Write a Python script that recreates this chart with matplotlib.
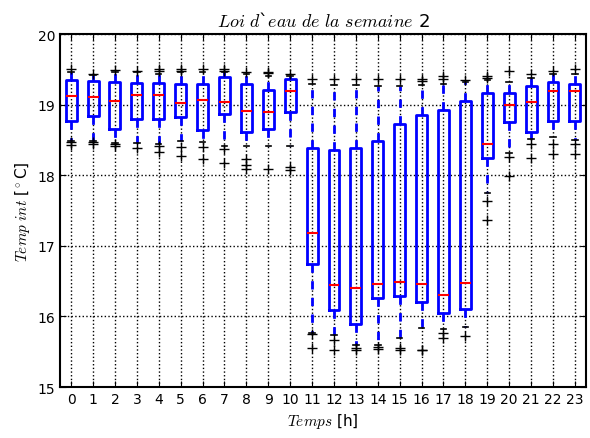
import matplotlib
matplotlib.use('Agg')
import matplotlib.pyplot as plt

plt.rcParams['mathtext.fontset'] = 'cm'

hours = list(range(24))
q1 = [18.77, 18.84, 18.66, 18.80, 18.80, 18.82, 18.64, 18.87, 18.61, 18.66, 18.90, 16.75,
      16.09, 15.89, 16.26, 16.29, 16.21, 16.05, 16.11, 18.25, 18.76, 18.62, 18.77, 18.77]
med = [19.12, 19.11, 19.05, 19.14, 19.14, 19.02, 19.07, 19.04, 18.91, 18.89, 19.19, 17.18,
       16.44, 16.41, 16.46, 16.49, 16.46, 16.30, 16.48, 18.44, 19.00, 19.04, 19.19, 19.19]
q3 = [19.35, 19.34, 19.32, 19.31, 19.31, 19.29, 19.30, 19.39, 19.29, 19.21, 19.36, 18.38,
      18.36, 18.39, 18.48, 18.73, 18.85, 18.93, 19.05, 19.17, 19.17, 19.26, 19.32, 19.30]
whis_hi = [19.47, 19.42, 19.47, 19.46, 19.43, 19.46, 19.47, 19.46, 19.43, 19.41, 19.40, 19.29,
           19.28, 19.28, 19.27, 19.27, 19.28, 19.29, 19.32, 19.35, 19.32, 19.38, 19.44, 19.43]
whis_lo = [18.49, 18.49, 18.46, 18.46, 18.45, 18.49, 18.47, 18.41, 18.41, 18.41, 18.41, 15.77,
           15.74, 15.59, 15.59, 15.69, 15.84, 15.82, 15.85, 17.75, 18.32, 18.51, 18.54, 18.50]
fliers = [
    [19.50, 18.47, 18.43],
    [19.43, 18.47, 18.44],
    [19.49, 18.44, 18.42],
    [19.48, 18.38],
    [19.48, 19.50, 18.41, 18.33],
    [19.50, 19.48, 18.40, 18.27],
    [19.50, 18.40, 18.23],
    [19.50, 19.48, 18.37, 18.18],
    [19.47, 18.23, 18.14, 18.09],
    [19.45, 19.47, 18.09],
    [19.44, 18.12, 18.08],
    [19.37, 15.75, 15.55],
    [19.36, 15.67, 15.52],
    [19.36, 15.56, 15.53],
    [19.36, 15.57, 15.54],
    [19.36, 15.56, 15.52],
    [19.33, 19.36, 15.53, 15.52],
    [19.41, 19.36, 15.76, 15.70],
    [19.35, 15.72],
    [19.41, 19.38, 17.63, 17.37],
    [19.48, 18.26, 17.99],
    [19.43, 18.44, 18.25],
    [19.48, 18.44, 18.30],
    [19.50, 18.44, 18.30],
]

stats = []
for i in range(len(hours)):
    stats.append(dict(med=med[i], q1=q1[i], q3=q3[i], whislo=whis_lo[i],
                      whishi=whis_hi[i], fliers=fliers[i]))

fig = plt.figure(figsize=(5.9, 4.39), dpi=100)
ax = fig.add_axes([0.102, 0.116, 0.891, 0.804])

ax.bxp(stats, positions=hours, widths=0.5,
       boxprops=dict(color='b', linewidth=2),
       whiskerprops=dict(color='b', linewidth=2, linestyle=(0, (3, 3))),
       capprops=dict(color='k', linewidth=1.2),
       medianprops=dict(color='r', linewidth=1.5),
       flierprops=dict(marker='+', markeredgecolor='k', markersize=7, linestyle='none'))

ax.set_xlim(-0.5, 23.5)
ax.set_ylim(15, 20)
ax.set_xticks(hours)
ax.set_xticklabels([str(h) for h in hours])
ax.set_yticks([15, 16, 17, 18, 19, 20])
ax.grid(True, color='k', linestyle=':', linewidth=1)
ax.tick_params(direction='in', top=True, right=True, labelsize=10, length=4)
for s in ax.spines.values():
    s.set_linewidth(1.5)

ax.set_title(r'$Loi\ d$`$eau\ de\ la\ semaine$ 2', fontsize=13)
ax.set_xlabel(r'$Temps$ [h]', fontsize=11)
ax.set_ylabel(r'$Temp\ int$ [$^\circ$C]', fontsize=11)

fig.savefig('out.png', dpi=100, facecolor='white')
